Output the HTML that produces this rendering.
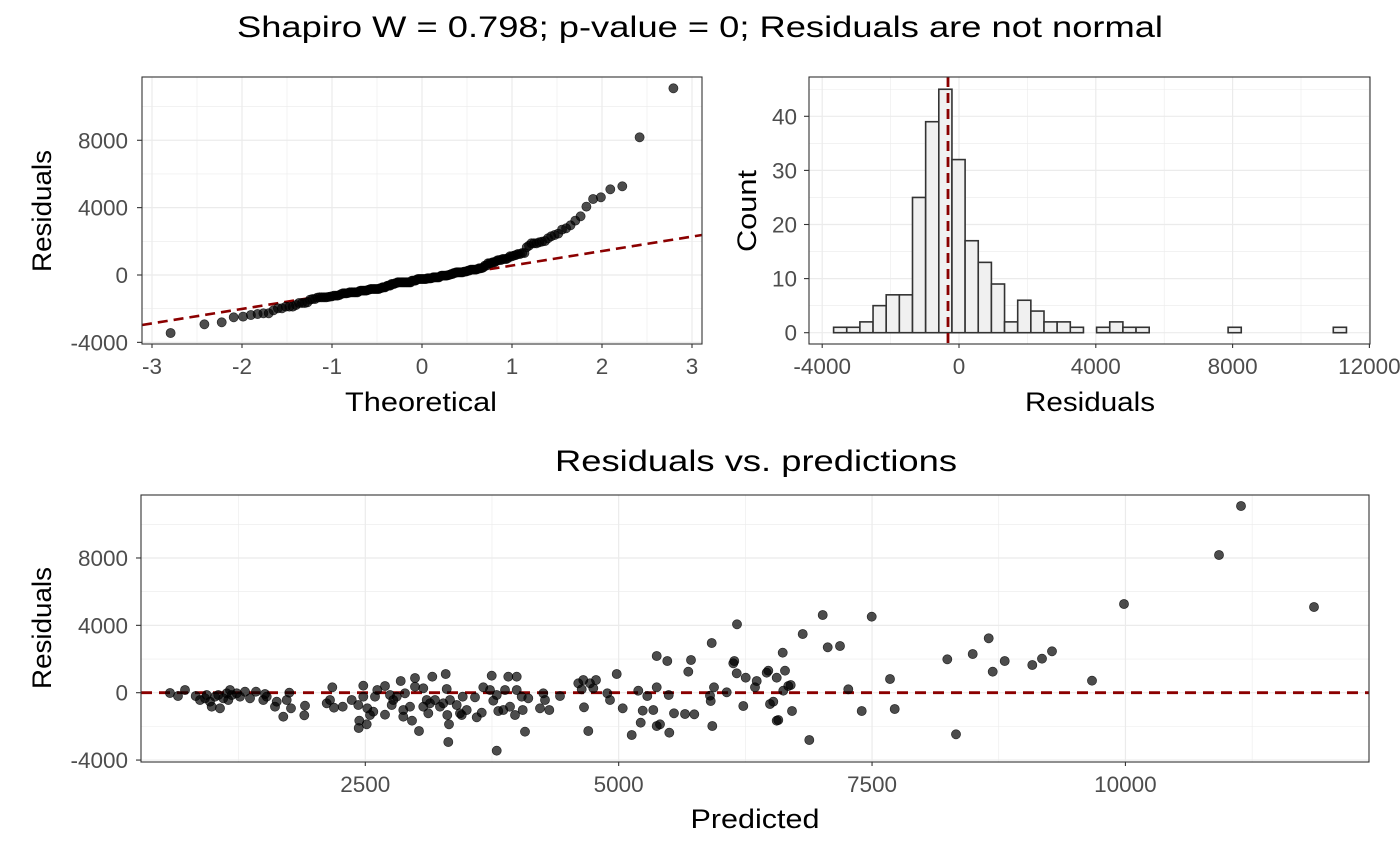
<!DOCTYPE html>
<html><head><meta charset="utf-8"><style>
body{margin:0;background:#fff}
svg{display:block;font-family:"Liberation Sans",sans-serif}
.tk{fill:#4d4d4d;font-size:22.5px}
.ti{fill:#000;font-size:27px}
</style></head><body>
<svg id="s" width="1400" height="866" xmlns="http://www.w3.org/2000/svg">
<rect width="1400" height="866" fill="#fff"/>
<text x="237" y="37" font-size="30" textLength="926" lengthAdjust="spacingAndGlyphs">Shapiro W = 0.798; p-value = 0; Residuals are not normal</text>
<text x="555" y="471" font-size="30" textLength="402" lengthAdjust="spacingAndGlyphs">Residuals vs. predictions</text>
<g id="g"></g>
</svg>
<script>
const g=document.getElementById('g');let h='';
function L(x1,y1,x2,y2,c,w,d){h+=`<line x1="${x1}" y1="${y1}" x2="${x2}" y2="${y2}" stroke="${c}" stroke-width="${w}"${d?` stroke-dasharray="${d}"`:''}/>`}
function T(x,y,t,cls,anc,rot,len){h+=`<text x="${x}" y="${y}" class="${cls}" text-anchor="${anc||'middle'}"${len?` textLength="${len}" lengthAdjust="spacingAndGlyphs"`:''}${rot?` transform="rotate(-90 ${x} ${y})"`:''}>${t}</text>`}
function panel(x0,x1,y0,y1,vmaj,vmin,hmaj,hmin){
  vmin.forEach(v=>L(v,y0,v,y1,'#ebebeb',0.6));hmin.forEach(v=>L(x0,v,x1,v,'#ebebeb',0.6));
  vmaj.forEach(v=>L(v,y0,v,y1,'#ebebeb',1.2));hmaj.forEach(v=>L(x0,v,x1,v,'#ebebeb',1.2));
}
function frame(x0,x1,y0,y1){h+=`<rect x="${x0}" y="${y0}" width="${x1-x0}" height="${y1-y0}" fill="none" stroke="#333" stroke-width="1.1"/>`}
const z3=[[197,648],[210,660],[225,655],[230,645],[240,665],[245,680],[255,650],[265,645],[270,685],[280,655],[290,640],[295,660],[300,630],[305,645],[320,640],[330,650],[345,635],[360,655],[378,635],[400,660],[405,642],[410,650],[435,680],[440,665],[470,660],[478,638],[483,685],[460,710],[525,677],[523,706],[590,670],[600,660],[607,622],[612,683],[638,680],[665,660],[685,675],[688,722],[686,744],[700,617],[700,650],[710,733],[712,685],[720,705],[730,695],[735,650],[742,630],[765,618],[765,704],[780,645],[785,675],[790,660],[800,650],[812,603],[820,690],[820,710],[825,640],[840,680],[846,722],[855,594],[855,620],[867,753],[880,625],[880,680],[890,660],[895,700],[900,670],[907,590],[915,660],[930,680],[940,670],[947,582],[950,627],[952,705],[957,733],[955,786],[960,660],[980,675],[990,700],[995,705],[998,650],[1010,690],[1035,652],[1040,712],[1055,698],[1060,622],[1080,630],[1085,587],[1090,662],[1100,645],[1100,812],[1105,693],[1120,690],[1125,630],[1135,590],[1140,680],[1155,705],[1160,590],[1160,630],[1175,650],[1178,690],[1185,755],[1195,655],[1230,685],[1240,640],[1245,660],[1258,690],[1290,648],[1345,610],[1355,628],[1360,600],[1362,682],[1375,753],[1380,610],[1390,625],[1398,600],[1432,640],[1440,660],[1460,582],[1478,685]];
const z4=[[95,765],[115,632],[122,728],[128,692],[142,648],[160,690],[170,528],[170,622],[170,738],[180,733],[202,543],[206,645],[208,758],[222,700],[255,702],[265,575],[273,540],[283,703],[330,647],[332,663],[335,489],[337,738],[342,622],[380,637],[400,550],[403,543],[410,580],[411,433],[430,678],[437,593],[465,622],[470,603],[500,578],[505,572],[510,672],[520,665],[530,593],[530,722],[535,720],[548,518],[550,632],[555,572],[565,618],[572,615],[576,693],[608,462],[628,780],[668,405],[683,502],[720,498],[745,628],[785,693],[815,410],[870,597],[884,687],[1042,538],[1068,763],[1118,522],[1166,475],[1178,575],[1214,543],[1297,555],[1326,536],[1356,514],[1476,602]];
let pts=z3.map(p=>[p[0]/3+130,p[1]/3+480]).concat(z4.map(p=>[p[0]/3+600,p[1]/3+480])).concat([[1124,604],[1219,555],[1241,506],[1314,607],[170,693],[178,696],[185,690]]);
const qx=v=>422+v*90, ry=r=>275-r*0.01684;
panel(142,702,77,344,[-3,-2,-1,0,1,2,3].map(qx),[-2.5,-1.5,-.5,.5,1.5,2.5].map(qx),[-4000,0,4000,8000].map(ry),[-2000,2000,6000,10000].map(ry));
L(142,325,702,235,'#8b0000',2.6,'10,6');
function qn(p){const a=[-39.6968302866538,220.946098424521,-275.928510446969,138.357751867269,-30.6647980661472,2.50662827745924],b=[-54.4760987982241,161.585836858041,-155.698979859887,66.8013118877197,-13.2806815528857],c=[-0.00778489400243029,-0.322396458041136,-2.40075827716184,-2.54973253934373,4.37466414146497,2.93816398269878],d=[0.00778469570904146,0.32246712907004,2.445134137143,3.75440866190742];let q,r;if(p<0.02425){q=Math.sqrt(-2*Math.log(p));return(((((c[0]*q+c[1])*q+c[2])*q+c[3])*q+c[4])*q+c[5])/((((d[0]*q+d[1])*q+d[2])*q+d[3])*q+1)}if(p>1-0.02425){return -qn(1-p)}q=p-0.5;r=q*q;return(((((a[0]*r+a[1])*r+a[2])*r+a[3])*r+a[4])*r+a[5])*q/(((((b[0]*r+b[1])*r+b[2])*r+b[3])*r+b[4])*r+1)}
const res=pts.map(p=>(692.7-p[1])/0.01684).sort((a,b)=>a-b);const n=res.length;
res.forEach((r,i)=>{h+=`<circle cx="${qx(qn((i+0.5)/n)).toFixed(1)}" cy="${ry(r).toFixed(1)}" r="4.6" fill="#000" fill-opacity="0.7" stroke="#000" stroke-opacity="0.8" stroke-width="0.6"/>`});
frame(142,702,77,344);
[-3,-2,-1,0,1,2,3].forEach(v=>{L(qx(v),344,qx(v),348,'#333',1.1);T(qx(v),374,v,'tk')});
[[-4000,'-4000'],[0,'0'],[4000,'4000'],[8000,'8000']].forEach(([v,t])=>{L(137,ry(v),142,ry(v),'#333',1.1);T(128,ry(v)+8,t,'tk','end')});
T(421,411,'Theoretical','ti','middle',0,152);T(51,211,'Residuals','ti','middle',1,122);
const hx=v=>959+v*0.0342, cy=c=>332.7-c*5.41;
panel(809,1370,77,344,[-4000,0,4000,8000,12000].map(hx),[-2000,2000,6000,10000].map(hx),[0,10,20,30,40].map(cy),[5,15,25,35,45].map(cy));
const cnt=[1,1,2,5,7,7,25,39,45,32,17,13,9,2,6,4,2,2,1,0,1,2,1,1,0,0,0,0,0,0,1,0,0,0,0,0,0,0,1];
cnt.forEach((c,i)=>{const x=833.6+13.15*i;h+=`<rect x="${x.toFixed(2)}" y="${cy(c).toFixed(2)}" width="13.15" height="${(c*5.41).toFixed(2)}" fill="#f0f0f0" stroke="#333" stroke-width="1.6"/>`});
L(948,77,948,344,'#8b0000',2.8,'10,6');
frame(809,1370,77,344);
[[-4000,'-4000'],[0,'0'],[4000,'4000'],[8000,'8000'],[12000,'12000']].forEach(([v,t])=>{L(hx(v),344,hx(v),348,'#333',1.1);T(hx(v),374,t,'tk')});
[0,10,20,30,40].forEach(v=>{L(804,cy(v),809,cy(v),'#333',1.1);T(797,cy(v)+8,v,'tk','end')});
T(1090,411,'Residuals','ti','middle',0,130);T(756,211,'Count','ti','middle',1,82);
const px=v=>365.3+(v-2500)*0.10135, by=r=>692.7-r*0.01684;
panel(141,1369,495,762,[2500,5000,7500,10000].map(px),[1250,3750,6250,8750,11250].map(px),[-4000,0,4000,8000].map(by),[-2000,2000,6000,10000].map(by));
L(141,692.7,1369,692.7,'#8b0000',2.8,'11,7');
pts.forEach(p=>{h+=`<circle cx="${p[0].toFixed(1)}" cy="${p[1].toFixed(1)}" r="4.6" fill="#000" fill-opacity="0.7" stroke="#000" stroke-opacity="0.8" stroke-width="0.6"/>`});
frame(141,1369,495,762);
[2500,5000,7500,10000].forEach(v=>{L(px(v),762,px(v),766,'#333',1.1);T(px(v),792,v,'tk')});
[[-4000,'-4000'],[0,'0'],[4000,'4000'],[8000,'8000']].forEach(([v,t])=>{L(136,by(v),141,by(v),'#333',1.1);T(128,by(v)+8,t,'tk','end')});
T(755,828,'Predicted','ti','middle',0,129);T(51,628,'Residuals','ti','middle',1,122);
g.innerHTML=h;
</script>
</body></html>
